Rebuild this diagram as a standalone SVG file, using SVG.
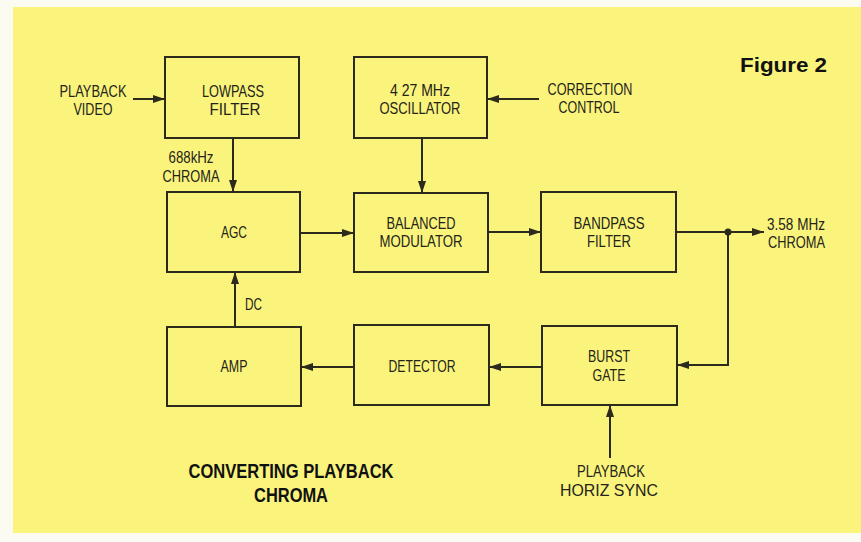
<svg xmlns="http://www.w3.org/2000/svg" width="861" height="542" viewBox="0 0 861 542">
<defs>
<style>
.bg{fill:#fbfbf2}
.panel{fill:#faf47c}
.box{fill:none;stroke:#2b2a1c;stroke-width:2}
.wire{fill:none;stroke:#2b2a1c;stroke-width:2}
.lbl{font-family:"Liberation Sans Narrow","Liberation Sans",Arial,sans-serif;font-size:17px;fill:#24231a;text-anchor:middle}
.lft{text-anchor:start}
.ttl{font-family:"Liberation Sans Narrow","Liberation Sans",Arial,sans-serif;font-size:21px;font-weight:bold;fill:#111;text-anchor:middle}
.fig{font-family:"Liberation Sans",Arial,sans-serif;font-size:21px;font-weight:bold;fill:#111;text-anchor:start}
</style>
<marker id="ah" viewBox="0 0 12 8" refX="12" refY="4" markerWidth="12" markerHeight="8" markerUnits="userSpaceOnUse" orient="auto">
<path d="M0,0 L12,4 L0,8 Z" fill="#2b2a1c"/>
</marker>
</defs>
<rect class="bg" x="0" y="0" width="861" height="542"/>
<rect class="panel" x="13" y="7" width="848" height="526"/>

<g id="lowpass">
<rect class="box" x="165" y="57" width="134" height="81"/>
<text class="lbl" x="233" y="97" textLength="62" lengthAdjust="spacingAndGlyphs">LOWPASS</text>
<text class="lbl" x="235" y="115" textLength="51" lengthAdjust="spacingAndGlyphs">FILTER</text>
</g>
<g id="oscillator">
<rect class="box" x="354" y="57" width="133" height="81"/>
<text class="lbl" x="420" y="96" textLength="60" lengthAdjust="spacingAndGlyphs">4 27 MHz</text>
<text class="lbl" x="420" y="114" textLength="81" lengthAdjust="spacingAndGlyphs">OSCILLATOR</text>
</g>
<g id="agc">
<rect class="box" x="167" y="192" width="133" height="80"/>
<text class="lbl" x="234" y="238" textLength="26" lengthAdjust="spacingAndGlyphs">AGC</text>
</g>
<g id="balmod">
<rect class="box" x="354" y="193" width="134" height="79"/>
<text class="lbl" x="421" y="229" textLength="69" lengthAdjust="spacingAndGlyphs">BALANCED</text>
<text class="lbl" x="421" y="247" textLength="83" lengthAdjust="spacingAndGlyphs">MODULATOR</text>
</g>
<g id="bandpass">
<rect class="box" x="541" y="192" width="135" height="80"/>
<text class="lbl" x="609" y="229" textLength="71" lengthAdjust="spacingAndGlyphs">BANDPASS</text>
<text class="lbl" x="609" y="247" textLength="44" lengthAdjust="spacingAndGlyphs">FILTER</text>
</g>
<g id="amp">
<rect class="box" x="167" y="327" width="134" height="79"/>
<text class="lbl" x="234" y="372" textLength="27" lengthAdjust="spacingAndGlyphs">AMP</text>
</g>
<g id="detector">
<rect class="box" x="354" y="325" width="135" height="80"/>
<text class="lbl" x="422" y="372" textLength="67" lengthAdjust="spacingAndGlyphs">DETECTOR</text>
</g>
<g id="burstgate">
<rect class="box" x="542" y="326" width="135" height="79"/>
<text class="lbl" x="609" y="362" textLength="42" lengthAdjust="spacingAndGlyphs">BURST</text>
<text class="lbl" x="609" y="381" textLength="33" lengthAdjust="spacingAndGlyphs">GATE</text>
</g>

<g id="labels">
<text class="lbl" x="93" y="97" textLength="67" lengthAdjust="spacingAndGlyphs">PLAYBACK</text>
<text class="lbl" x="93" y="115" textLength="39" lengthAdjust="spacingAndGlyphs">VIDEO</text>
<text class="lbl" x="590" y="95" textLength="85" lengthAdjust="spacingAndGlyphs">CORRECTION</text>
<text class="lbl" x="589" y="113" textLength="61" lengthAdjust="spacingAndGlyphs">CONTROL</text>
<text class="lbl" x="191" y="163" textLength="45" lengthAdjust="spacingAndGlyphs">688kHz</text>
<text class="lbl" x="191" y="182" textLength="57" lengthAdjust="spacingAndGlyphs">CHROMA</text>
<text class="lbl lft" x="767" y="230" textLength="58" lengthAdjust="spacingAndGlyphs">3.58 MHz</text>
<text class="lbl lft" x="768" y="248" textLength="57" lengthAdjust="spacingAndGlyphs">CHROMA</text>
<text class="lbl lft" x="245" y="310" textLength="17" lengthAdjust="spacingAndGlyphs">DC</text>
<text class="lbl" x="611" y="477" textLength="68" lengthAdjust="spacingAndGlyphs">PLAYBACK</text>
<text class="lbl" x="609" y="496" textLength="98" lengthAdjust="spacingAndGlyphs">HORIZ SYNC</text>
<text class="ttl" x="291" y="478" textLength="205" lengthAdjust="spacingAndGlyphs">CONVERTING PLAYBACK</text>
<text class="ttl" x="291" y="502" textLength="74" lengthAdjust="spacingAndGlyphs">CHROMA</text>
<text class="fig" x="740" y="72" textLength="87" lengthAdjust="spacingAndGlyphs">Figure 2</text>
</g>

<g id="connectors">
<line class="wire" x1="133" y1="99" x2="165" y2="99" marker-end="url(#ah)"/>
<line class="wire" x1="539" y1="99" x2="487" y2="99" marker-end="url(#ah)"/>
<line class="wire" x1="233" y1="138" x2="233" y2="192" marker-end="url(#ah)"/>
<line class="wire" x1="422" y1="138" x2="422" y2="193" marker-end="url(#ah)"/>
<line class="wire" x1="300" y1="233" x2="354" y2="233" marker-end="url(#ah)"/>
<line class="wire" x1="488" y1="232" x2="541" y2="232" marker-end="url(#ah)"/>
<line class="wire" x1="676" y1="232" x2="764" y2="232" marker-end="url(#ah)"/>
<circle cx="728" cy="232" r="3.5" fill="#2b2a1c"/>
<polyline class="wire" points="728,232 728,365 677,365" marker-end="url(#ah)"/>
<line class="wire" x1="542" y1="367" x2="489" y2="367" marker-end="url(#ah)"/>
<line class="wire" x1="354" y1="367" x2="301" y2="367" marker-end="url(#ah)"/>
<line class="wire" x1="235" y1="327" x2="235" y2="272" marker-end="url(#ah)"/>
<line class="wire" x1="610" y1="458" x2="610" y2="405" marker-end="url(#ah)"/>
</g>
</svg>
